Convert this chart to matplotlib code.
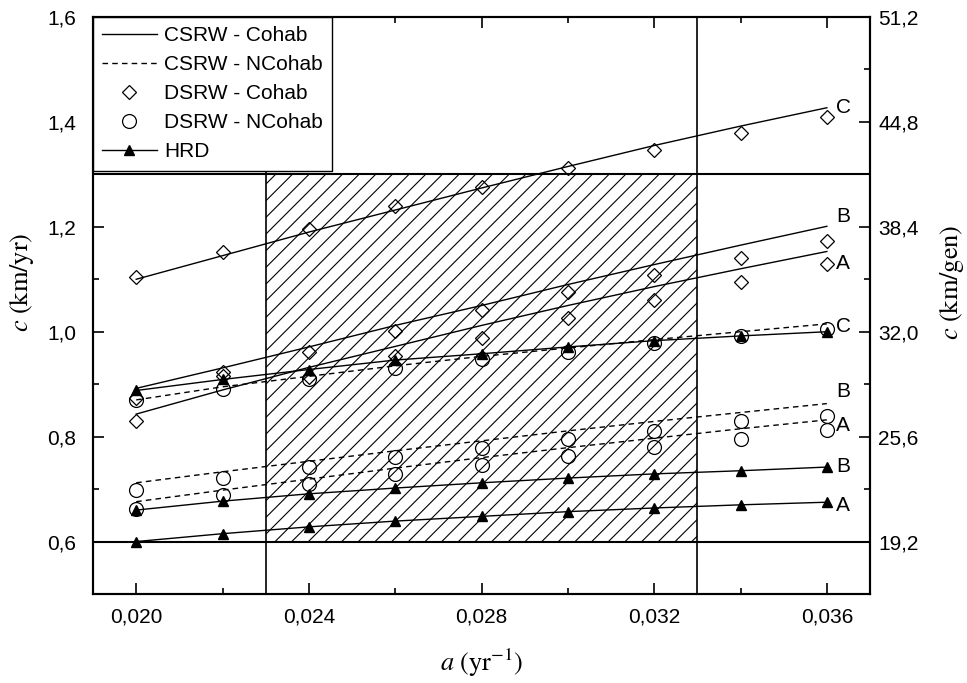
import matplotlib
matplotlib.use('Agg')
import matplotlib.pyplot as plt
from matplotlib.patches import Rectangle
from matplotlib.ticker import MultipleLocator, FuncFormatter

# data
a = [0.020, 0.022, 0.024, 0.026, 0.028, 0.030, 0.032, 0.034, 0.036]

# CSRW - Cohab (solid curves)
csrw_cohab_a = [0.843, 0.889, 0.932, 0.972, 1.012, 1.050, 1.086, 1.120, 1.153]
csrw_cohab_b = [0.892, 0.931, 0.971, 1.012, 1.050, 1.090, 1.128, 1.165, 1.201]
csrw_cohab_c = [1.100, 1.145, 1.190, 1.232, 1.274, 1.315, 1.355, 1.392, 1.427]

# CSRW - NCohab (dashed curves)
csrw_ncohab_a = [0.676, 0.698, 0.719, 0.740, 0.760, 0.779, 0.797, 0.815, 0.832]
csrw_ncohab_b = [0.712, 0.733, 0.753, 0.773, 0.792, 0.811, 0.829, 0.846, 0.863]
csrw_ncohab_c = [0.870, 0.895, 0.915, 0.935, 0.953, 0.969, 0.985, 1.000, 1.015]

# DSRW - Cohab (diamonds)
dsrw_cohab_a = [0.829, 0.915, 0.914, 0.953, 0.989, 1.026, 1.060, 1.094, 1.130]
dsrw_cohab_b = [0.874, 0.924, 0.962, 1.002, 1.041, 1.075, 1.109, 1.140, 1.173]
dsrw_cohab_c = [1.105, 1.152, 1.196, 1.240, 1.276, 1.312, 1.347, 1.378, 1.409]

# DSRW - NCohab (circles)
dsrw_ncohab_a = [0.663, 0.688, 0.710, 0.728, 0.745, 0.764, 0.780, 0.796, 0.812]
dsrw_ncohab_b = [0.698, 0.721, 0.742, 0.761, 0.778, 0.796, 0.811, 0.829, 0.840]
dsrw_ncohab_c = [0.869, 0.891, 0.910, 0.931, 0.948, 0.962, 0.978, 0.992, 1.005]

# HRD (line + triangles)
hrd_a = [0.600, 0.615, 0.628, 0.639, 0.648, 0.657, 0.664, 0.670, 0.675]
hrd_b = [0.660, 0.677, 0.691, 0.702, 0.712, 0.721, 0.729, 0.735, 0.742]
hrd_c = [0.888, 0.909, 0.928, 0.946, 0.958, 0.971, 0.983, 0.992, 1.000]

# shaded window
a_range = (0.023, 0.033)
c_range = (0.6, 1.3)
gen_factor = 32.0  # km/gen per km/yr

plt.rcParams['font.family'] = ['Liberation Sans', 'DejaVu Sans']
plt.rcParams['mathtext.fontset'] = 'stix'
plt.rcParams['hatch.linewidth'] = 0.8

fig = plt.figure(figsize=(9.67, 6.83), dpi=100)
ax = fig.add_axes([0.0962, 0.1303, 0.8035, 0.8448])

# hatched window and its bounding lines
ax.add_patch(Rectangle((a_range[0], c_range[0]), a_range[1] - a_range[0], c_range[1] - c_range[0],
                       fill=False, hatch='//', edgecolor='black', linewidth=0, zorder=1))
for v in a_range:
    ax.axvline(v, color='black', linewidth=1.2, zorder=2)
for h in c_range:
    ax.axhline(h, color='black', linewidth=1.5, zorder=2)

lw = 1.0
ax.plot(a, csrw_cohab_c, '-', color='black', lw=lw, label='CSRW - Cohab', zorder=3)
ax.plot(a, csrw_cohab_b, '-', color='black', lw=lw, zorder=3)
ax.plot(a, csrw_cohab_a, '-', color='black', lw=lw, zorder=3)
ax.plot(a, csrw_ncohab_c, '--', color='black', lw=lw, dashes=(4, 3), label='CSRW - NCohab', zorder=3)
ax.plot(a, csrw_ncohab_b, '--', color='black', lw=lw, dashes=(4, 3), zorder=3)
ax.plot(a, csrw_ncohab_a, '--', color='black', lw=lw, dashes=(4, 3), zorder=3)

dk = dict(linestyle='none', marker='D', markersize=7.5, markerfacecolor='none',
          markeredgecolor='black', markeredgewidth=0.9, zorder=4)
ax.plot(a, dsrw_cohab_c, label='DSRW - Cohab', **dk)
ax.plot(a, dsrw_cohab_b, **dk)
ax.plot(a, dsrw_cohab_a, **dk)

ck = dict(linestyle='none', marker='o', markersize=10, markerfacecolor='none',
          markeredgecolor='black', markeredgewidth=0.9, zorder=4)
ax.plot(a, dsrw_ncohab_c, label='DSRW - NCohab', **ck)
ax.plot(a, dsrw_ncohab_b, **ck)
ax.plot(a, dsrw_ncohab_a, **ck)

tk = dict(linestyle='-', color='black', lw=lw, marker='^', markersize=7,
          markerfacecolor='black', markeredgecolor='black', zorder=5)
ax.plot(a, hrd_c, label='HRD', **tk)
ax.plot(a, hrd_b, **tk)
ax.plot(a, hrd_a, **tk)

# curve letters at the right end
tags = [('C', csrw_cohab_c[-1], 0), ('B', csrw_cohab_b[-1], 10), ('A', dsrw_cohab_a[-1], 0),
        ('C', csrw_ncohab_c[-1], -3), ('B', csrw_ncohab_b[-1], 12), ('A', dsrw_ncohab_a[-1], 5),
        ('B', hrd_b[-1], 1), ('A', hrd_a[-1], -3)]
for t, yv, dy in tags:
    ax.annotate(t, (a[-1], yv), xytext=(9, dy), textcoords='offset pixels',
                ha='left', va='center', fontsize=15, zorder=6)

ax.set_xlim(0.019, 0.037)
ax.set_ylim(0.5, 1.6)
ax.xaxis.set_major_locator(MultipleLocator(0.004))
ax.xaxis.set_minor_locator(MultipleLocator(0.002))
ax.yaxis.set_major_locator(MultipleLocator(0.2))
ax.yaxis.set_minor_locator(MultipleLocator(0.1))
ax.xaxis.set_major_formatter(FuncFormatter(lambda v, p: '{:.3f}'.format(v).replace('.', ',')))
ax.yaxis.set_major_formatter(FuncFormatter(lambda v, p: '{:.1f}'.format(v).replace('.', ',')))
ax.tick_params(which='both', direction='in', top=True, labelsize=15, width=1.2)
ax.tick_params(which='major', length=8)
ax.tick_params(which='minor', length=4)
ax.tick_params(axis='x', pad=10)
ax.tick_params(axis='y', pad=12)
for s in ax.spines.values():
    s.set_linewidth(1.5)

ax2 = ax.twinx()
ax2.set_ylim(0.5 * gen_factor, 1.6 * gen_factor)
ax2.yaxis.set_major_locator(MultipleLocator(0.2 * gen_factor))
ax2.yaxis.set_minor_locator(MultipleLocator(0.1 * gen_factor))
ax2.yaxis.set_major_formatter(FuncFormatter(lambda v, p: '{:.1f}'.format(v).replace('.', ',')))
ax2.tick_params(which='both', direction='in', labelsize=15, width=1.2, pad=6)
ax2.tick_params(which='major', length=8)
ax2.tick_params(which='minor', length=4)
for s in ax2.spines.values():
    s.set_linewidth(1.5)

ax.set_xlabel(r'$a\ (\mathrm{yr}^{-1})$', fontsize=19, labelpad=14)
ax.set_ylabel(r'$c\ (\mathrm{km/yr})$', fontsize=19, labelpad=8)
ax2.set_ylabel(r'$c\ (\mathrm{km/gen})$', fontsize=19, labelpad=14)
ax.yaxis.set_label_coords(-0.073, 0.54)
ax2.yaxis.set_label_coords(1.086, 0.54)

leg = ax.legend(loc='upper left', fontsize=15, frameon=True, fancybox=False,
                edgecolor='black', framealpha=1, borderaxespad=0, handlelength=2.6,
                labelspacing=0.48, borderpad=0.45, handletextpad=0.35)
leg.get_frame().set_linewidth(1.0)
leg.set_zorder(10)

fig.savefig('out.png', dpi=100)
